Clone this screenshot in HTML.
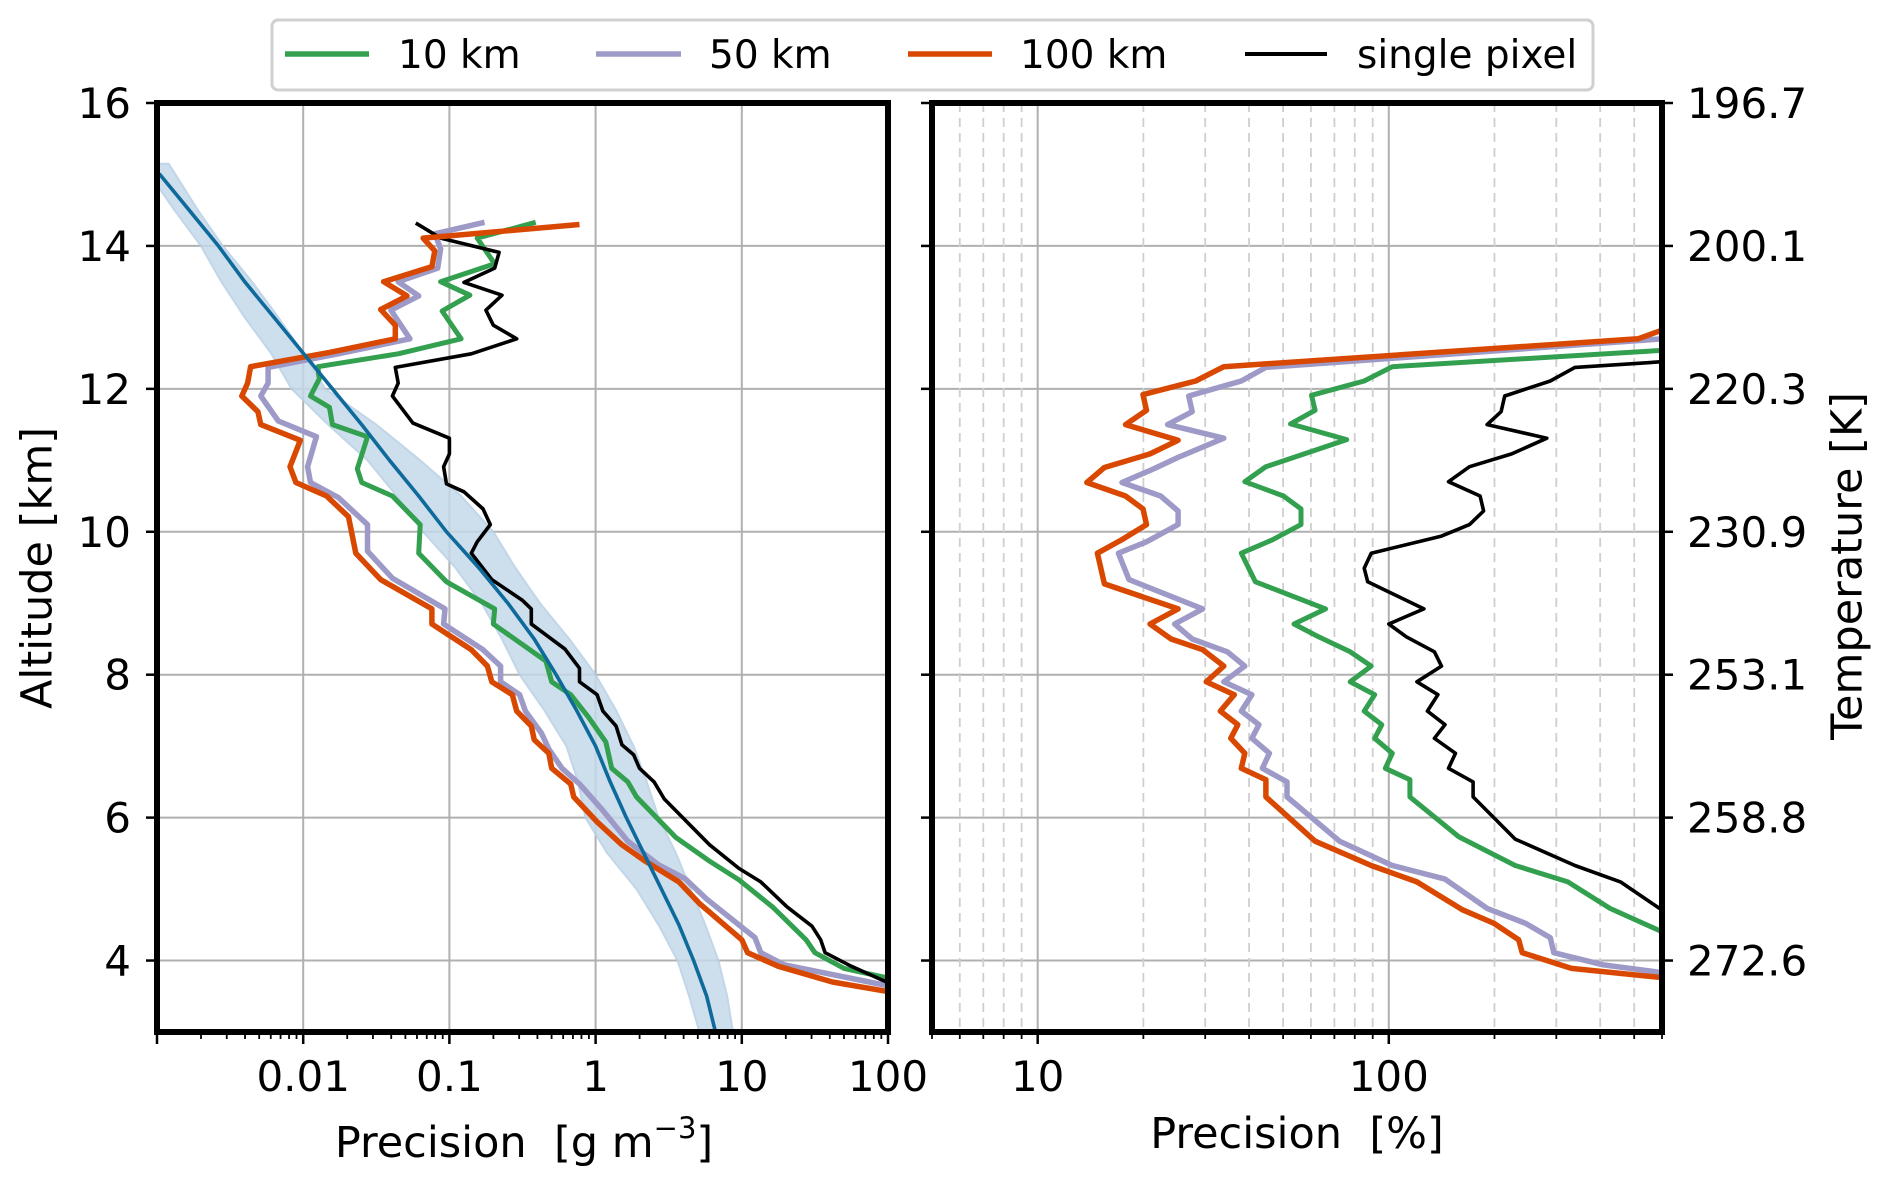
<!DOCTYPE html>
<html><head><meta charset="utf-8"><style>
html,body{margin:0;padding:0;background:#fff;}
svg{display:block;font-family:"DejaVu Sans","Liberation Sans",sans-serif;}
</style></head><body>
<svg id="chart" width="1892" height="1183" viewBox="0 0 1892 1183" xmlns="http://www.w3.org/2000/svg">
<defs>
<clipPath id="clipL"><rect x="157" y="103" width="731" height="929"/></clipPath>
<clipPath id="clipR"><rect x="932" y="103" width="730" height="929"/></clipPath>
</defs>
<g id="gridL"></g>
<g id="gridR"></g>
<g id="bandL" clip-path="url(#clipL)"></g>
<g id="linesL" clip-path="url(#clipL)"></g>
<g id="linesR" clip-path="url(#clipR)"></g>
<rect x="157" y="103" width="731" height="929" fill="none" stroke="#000" stroke-width="6"/>
<rect x="932" y="103" width="730" height="929" fill="none" stroke="#000" stroke-width="6"/>
<g id="axes"></g>
<text x="40" y="568" font-size="43" text-anchor="middle" dominant-baseline="middle" transform="rotate(-90 40 568)">Altitude [km]</text>
<text x="1850" y="566" font-size="43" text-anchor="middle" dominant-baseline="middle" transform="rotate(-90 1850 566)">Temperature [K]</text>
<text x="524" y="1157" font-size="43" text-anchor="middle">Precision&#160; [g m<tspan font-size="29" dy="-19">−3</tspan><tspan dy="19">]</tspan></text>
<text x="1297" y="1148" font-size="43" text-anchor="middle">Precision&#160; [%]</text>
<g>
<rect x="272" y="20" width="1321" height="70" rx="6" fill="#fff" stroke="#d0d0d0" stroke-width="3"/>
<g><line x1="285" y1="54" x2="369" y2="54" stroke="#33a050" stroke-width="5.5"/><text x="398" y="68" font-size="39">10 km</text></g>
<g><line x1="596" y1="54" x2="681" y2="54" stroke="#9e9ac8" stroke-width="5.5"/><text x="709" y="68" font-size="39">50 km</text></g>
<g><line x1="908" y1="54" x2="992" y2="54" stroke="#d94801" stroke-width="5.5"/><text x="1020" y="68" font-size="39">100 km</text></g>
<g><line x1="1245" y1="54" x2="1327" y2="54" stroke="#000" stroke-width="4"/><text x="1357" y="68" font-size="39">single pixel</text></g>
</g>
</svg>
<script>
// ---- data (log10 of precision values, altitude in km) ----
const altTicks = [4,6,8,10,12,14,16];
const tempLabels = ["272.6","258.8","253.1","230.9","220.3","200.1","196.7"];
const leftXTicks = [0.01,0.1,1,10,100];
const leftXTickLabels = ["0.01","0.1","1","10","100"];
const rightXTicks = [10,100];
const rightXTickLabels = ["10","100"];

const gAlt = [14.33,14.11,13.75,13.5,13.31,13.09,12.7,12.49,12.31,12.14,11.9,11.74,11.5,11.33,10.88,10.69,10.5,10.1,9.7,9.3,8.92,8.71,8.19,7.9,7.72,7.41,7.06,6.69,6.5,6.29,5.72,5.39,5.13,4.75,4.29,4.11,3.89,3.76,3.6];
const gLeft = [-0.41,-0.81,-0.69,-1.06,-0.86,-1.05,-0.92,-1.35,-1.9,-1.89,-1.95,-1.82,-1.8,-1.56,-1.63,-1.6,-1.39,-1.2,-1.21,-1.02,-0.69,-0.7,-0.34,-0.3,-0.17,-0.05,0.07,0.11,0.22,0.28,0.55,0.78,0.98,1.21,1.44,1.5,1.7,1.99,2.3];
const kAlt = [14.32,14.11,13.91,13.69,13.49,13.31,13.1,12.89,12.7,12.49,12.3,12.08,11.9,11.52,11.31,11.09,10.91,10.67,10.56,10.32,10.1,9.86,9.7,9.33,9.04,8.92,8.71,8.36,8.09,7.9,7.72,7.49,7.28,7.02,6.88,6.69,6.5,6.26,5.62,5.29,5.1,4.75,4.48,4.29,4.11,3.92,3.7,3.55];
const kLeft = [-1.23,-1.06,-0.66,-0.69,-0.9,-0.64,-0.75,-0.7,-0.54,-0.85,-1.37,-1.35,-1.39,-1.25,-1.0,-1.0,-1.04,-1.02,-0.9,-0.77,-0.72,-0.81,-0.85,-0.71,-0.5,-0.44,-0.44,-0.21,-0.11,-0.11,0.01,0.05,0.14,0.18,0.26,0.3,0.4,0.47,0.78,0.98,1.13,1.31,1.48,1.54,1.57,1.75,1.99,2.3];
const oAlt = [14.3,14.11,13.93,13.71,13.5,13.3,13.11,12.89,12.7,12.51,12.31,12.08,11.9,11.68,11.5,11.28,10.91,10.69,10.5,10.21,9.7,9.33,8.92,8.71,8.35,8.12,7.9,7.72,7.49,7.28,7.09,6.9,6.69,6.47,6.29,5.94,5.62,5.39,5.1,4.8,4.29,4.11,3.92,3.7,3.57,3.45];
const oLeft = [-0.11,-1.18,-1.1,-1.12,-1.45,-1.29,-1.47,-1.37,-1.37,-1.82,-2.36,-2.38,-2.42,-2.31,-2.29,-2.02,-2.09,-2.05,-1.84,-1.69,-1.64,-1.47,-1.12,-1.12,-0.85,-0.74,-0.71,-0.57,-0.54,-0.44,-0.42,-0.32,-0.3,-0.17,-0.15,0.01,0.18,0.34,0.57,0.71,1.0,1.04,1.25,1.62,1.99,2.3];
const pAlt = [14.33,14.17,13.96,13.69,13.5,13.3,13.1,12.7,12.49,12.3,12.08,11.9,11.55,11.33,10.91,10.69,10.48,10.1,9.73,9.35,8.92,8.71,8.35,8.12,7.9,7.72,7.49,7.18,6.96,6.69,6.47,6.1,5.67,5.34,5.15,4.86,4.32,4.11,3.94,3.65,3.5];
const pLeft = [-0.76,-1.1,-1.06,-1.08,-1.35,-1.21,-1.4,-1.27,-1.76,-2.24,-2.24,-2.29,-2.17,-1.91,-1.97,-1.95,-1.76,-1.56,-1.56,-1.39,-1.03,-1.04,-0.77,-0.65,-0.65,-0.52,-0.48,-0.37,-0.32,-0.23,-0.11,0.05,0.22,0.43,0.61,0.76,1.09,1.13,1.29,1.99,2.3];
const bAlt = [15.1,15,14.5,14,13.5,13,12.5,12,11.5,11,10.5,10,9.5,9,8.5,8,7.5,7,6.5,6,5.5,5,4.5,4,3.5,3,2.8];
const bLeft = [-3.1,-2.98,-2.78,-2.58,-2.4,-2.2,-2.0,-1.8,-1.6,-1.41,-1.21,-1.02,-0.8,-0.6,-0.42,-0.27,-0.13,0.0,0.1,0.21,0.33,0.45,0.57,0.67,0.76,0.82,0.85];
const bandAlt = [15.15,14.5,14,13.5,13,12.5,12,11.5,11,10.5,10,9.5,9,8.5,8,7.5,7,6.5,6,5.5,5,4.5,4,3.5,3,2.8];
const bandLo = [-3.1,-2.88,-2.7,-2.56,-2.4,-2.22,-2.08,-1.83,-1.56,-1.36,-1.18,-0.96,-0.78,-0.64,-0.52,-0.35,-0.2,-0.12,-0.07,0.08,0.28,0.43,0.56,0.64,0.71,0.74];
const bandHi = [-2.92,-2.72,-2.55,-2.35,-2.17,-2.0,-1.85,-1.5,-1.2,-0.92,-0.7,-0.55,-0.38,-0.18,0.0,0.14,0.26,0.35,0.43,0.55,0.65,0.75,0.84,0.9,0.94,0.97];

const oRAlt = [12.95,12.7,12.31,12.11,11.92,11.7,11.5,11.28,11.09,10.9,10.69,10.5,10.32,10.1,9.89,9.7,9.27,8.92,8.71,8.5,8.35,8.12,7.9,7.72,7.49,7.3,7.11,6.9,6.69,6.53,6.29,5.67,5.33,5.1,4.71,4.52,4.29,4.11,3.89,3.76,3.7];
const oRight = [2.85,2.71,1.53,1.45,1.3,1.31,1.25,1.4,1.32,1.19,1.14,1.25,1.3,1.31,1.24,1.17,1.19,1.4,1.32,1.38,1.47,1.53,1.48,1.56,1.52,1.57,1.55,1.59,1.58,1.65,1.65,1.79,1.95,2.08,2.21,2.3,2.37,2.38,2.52,2.78,2.9];
const pRAlt = [12.75,12.7,12.3,12.11,11.9,11.68,11.5,11.31,11.04,10.88,10.69,10.5,10.29,10.1,9.86,9.7,9.33,8.92,8.71,8.5,8.32,8.12,7.9,7.72,7.49,7.3,7.11,6.9,6.69,6.5,6.29,5.67,5.33,5.14,4.73,4.52,4.32,4.11,3.94,3.83,3.8];
const pRight = [2.85,2.78,1.65,1.58,1.43,1.44,1.37,1.53,1.4,1.33,1.24,1.35,1.4,1.4,1.31,1.23,1.26,1.47,1.39,1.44,1.54,1.59,1.53,1.61,1.58,1.63,1.61,1.66,1.64,1.71,1.71,1.86,2.01,2.16,2.28,2.39,2.46,2.47,2.61,2.78,2.85];
const gRAlt = [12.56,12.54,12.31,12.11,11.91,11.7,11.51,11.29,10.91,10.7,10.5,10.32,10.1,9.89,9.7,9.3,8.92,8.71,8.53,8.32,8.12,7.9,7.72,7.49,7.3,7.11,6.9,6.69,6.53,6.29,5.73,5.33,5.1,4.73,4.4,4.35];
const gRight = [2.85,2.78,2.01,1.93,1.78,1.79,1.72,1.88,1.65,1.59,1.7,1.75,1.75,1.67,1.58,1.62,1.82,1.73,1.8,1.89,1.95,1.89,1.96,1.93,1.98,1.96,2.01,1.99,2.06,2.06,2.2,2.36,2.51,2.63,2.78,2.85];
const kRAlt = [12.39,12.38,12.3,12.11,11.9,11.68,11.5,11.31,11.09,10.91,10.7,10.5,10.29,10.1,9.94,9.7,9.49,9.3,8.92,8.71,8.53,8.32,8.12,7.9,7.72,7.49,7.3,7.11,6.9,6.69,6.5,6.29,5.7,5.33,5.1,4.7,4.65];
const kRight = [2.85,2.78,2.53,2.46,2.33,2.32,2.28,2.45,2.35,2.23,2.17,2.26,2.27,2.23,2.15,1.95,1.93,1.94,2.1,2.0,2.05,2.13,2.15,2.08,2.14,2.11,2.16,2.13,2.19,2.17,2.24,2.24,2.36,2.53,2.66,2.78,2.85];

// ---- axes functions ----
const NS = "http://www.w3.org/2000/svg";
const yTop = 103, yBot = 1032, altMin = 3, altMax = 16;
function yA(a){ return yBot - (a - altMin) / (altMax - altMin) * (yBot - yTop); }
const L = {x0:157, x1:888, lmin:-3, lmax:2};
const R = {x0:932, x1:1662, lmin:Math.log10(5), lmax:Math.log10(600)};
function xL(lv){ return L.x0 + (lv - L.lmin)/(L.lmax - L.lmin)*(L.x1 - L.x0); }
function xR(lv){ return R.x0 + (lv - R.lmin)/(R.lmax - R.lmin)*(R.x1 - R.x0); }
function mk(tag, attrs, parent){ const e = document.createElementNS(NS, tag); for (const k in attrs) e.setAttribute(k, attrs[k]); parent.appendChild(e); return e; }
const gridL = document.getElementById('gridL'), gridR = document.getElementById('gridR'), axes = document.getElementById('axes');

altTicks.forEach(a => {
  const y = yA(a);
  let l = mk('line', {x1:L.x0, x2:L.x1, y1:y, y2:y, stroke:'#b0b0b0', 'stroke-width':2}, gridL);
  
  
  let r = mk('line', {x1:R.x0, x2:R.x1, y1:y, y2:y, stroke:'#b0b0b0', 'stroke-width':2}, gridR);
  
  
});
for (let d = -3; d <= 2; d++) {
  for (let m = 1; m <= 9; m++) {
    const lv = d + Math.log10(m);
    if (lv < L.lmin - 1e-9 || lv > L.lmax + 1e-9) continue;
    const x = xL(lv);
    if (m === 1) {
      if (d > -3 && d < 2) {
        const g = mk('line', {x1:x, x2:x, y1:yTop, y2:yBot, stroke:'#b0b0b0', 'stroke-width':2}, gridL);
        
        
      }
      mk('line', {x1:x, x2:x, y1:yBot, y2:yBot+12, stroke:'#000', 'stroke-width':2.5}, axes);
    } else {
      mk('line', {x1:x, x2:x, y1:yBot, y2:yBot+7, stroke:'#000', 'stroke-width':1.8}, axes);
    }
  }
}
leftXTicks.forEach((v, i) => {
  const t = mk('text', {x:xL(Math.log10(v)), y:1091, 'font-size':42, 'text-anchor':'middle'}, axes);
  t.textContent = leftXTickLabels[i];
  
  
});
for (let d = 0; d <= 2; d++) {
  for (let m = 1; m <= 9; m++) {
    const lv = d + Math.log10(m);
    if (lv < R.lmin - 1e-9 || lv > R.lmax + 1e-9) continue;
    const x = xR(lv);
    if (m === 1) {
      const g = mk('line', {x1:x, x2:x, y1:yTop, y2:yBot, stroke:'#b0b0b0', 'stroke-width':2}, gridR);
      
      
      mk('line', {x1:x, x2:x, y1:yBot, y2:yBot+12, stroke:'#000', 'stroke-width':2.5}, axes);
    } else {
      const g = mk('line', {x1:x, x2:x, y1:yTop, y2:yBot, stroke:'#cfcfcf', 'stroke-width':1.8, 'stroke-dasharray':'9,6'}, gridR);
      
      
      mk('line', {x1:x, x2:x, y1:yBot, y2:yBot+7, stroke:'#000', 'stroke-width':1.8}, axes);
    }
  }
}
rightXTicks.forEach((v, i) => {
  const t = mk('text', {x:xR(Math.log10(v)), y:1091, 'font-size':42, 'text-anchor':'middle'}, axes);
  t.textContent = rightXTickLabels[i];
  
  
});
altTicks.forEach((a, i) => {
  const y = yA(a);
  mk('line', {x1:L.x0-11, x2:L.x0, y1:y, y2:y, stroke:'#000', 'stroke-width':2.5}, axes);
  mk('line', {x1:R.x0-11, x2:R.x0, y1:y, y2:y, stroke:'#000', 'stroke-width':2.5}, axes);
  mk('line', {x1:R.x1, x2:R.x1+11, y1:y, y2:y, stroke:'#000', 'stroke-width':2.5}, axes);
  const t = mk('text', {x:131, y:y+15, 'font-size':42, 'text-anchor':'end'}, axes);
  t.textContent = String(a);
  
  
  const t2 = mk('text', {x:1687, y:y+15, 'font-size':42}, axes);
  t2.textContent = tempLabels[i];
  
  
});
(function(){
  let d = '';
  bandAlt.forEach((a, i) => { d += (i ? 'L' : 'M') + xL(bandLo[i]).toFixed(1) + ',' + yA(a).toFixed(1); });
  for (let i = bandAlt.length - 1; i >= 0; i--) d += 'L' + xL(bandHi[i]).toFixed(1) + ',' + yA(bandAlt[i]).toFixed(1);
  const p = mk('path', {d:d + 'Z', fill:'#c5d9ea', stroke:'#b7cfe4', 'stroke-width':2, opacity:0.85, 'stroke-linejoin':'round'}, document.getElementById('bandL'));
  
  
})();
function line(parent, alts, vals, xf, color, w, name){
  let d = '';
  alts.forEach((a, i) => { d += (i ? 'L' : 'M') + xf(vals[i]).toFixed(1) + ',' + yA(a).toFixed(1); });
  const p = mk('path', {d:d, fill:'none', stroke:color, 'stroke-width':w, 'stroke-linejoin':'round'}, parent);
  
  
}
const gl = document.getElementById('linesL'), gr = document.getElementById('linesR');
line(gl, pAlt, pLeft, xL, '#9e9ac8', 5.5, 'line-50km-left');
line(gl, gAlt, gLeft, xL, '#33a050', 5, 'line-10km-left');
line(gl, kAlt, kLeft, xL, '#000', 3.6, 'line-single-pixel-left');
line(gl, oAlt, oLeft, xL, '#d94801', 5.5, 'line-100km-left');
line(gl, bAlt, bLeft, xL, '#0e6a9a', 3.6, 'line-reference-profile');
line(gr, pRAlt, pRight, xR, '#9e9ac8', 5.5, 'line-50km-right');
line(gr, gRAlt, gRight, xR, '#33a050', 5, 'line-10km-right');
line(gr, kRAlt, kRight, xR, '#000', 3.6, 'line-single-pixel-right');
line(gr, oRAlt, oRight, xR, '#d94801', 5.5, 'line-100km-right');
</script>
</body></html>
